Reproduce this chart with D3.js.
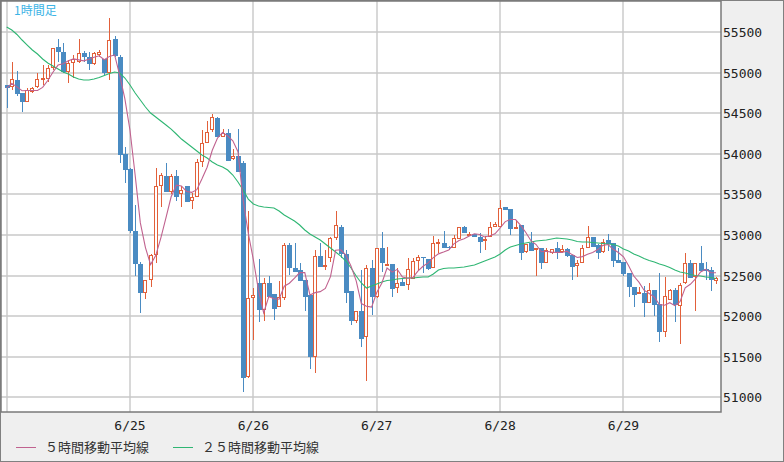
<!DOCTYPE html>
<meta charset="utf-8">
<style>
body { margin: 0; background: #fff; }
svg { display: block; }
.ytick, .xtick { font: 13px "DejaVu Sans Mono", monospace; fill: #222; }
.legend text { font: 13px "Noto Sans CJK JP", sans-serif; fill: #333; }
.title { font: 12px "Noto Sans CJK JP", sans-serif; fill: #3cb4e6; }
.grid line { stroke: #c8c8c8; stroke-width: 1.4px; }
.ma { fill: none; stroke-width: 1.1px; }
</style>
<svg width="784" height="462"></svg>
<script src="https://cdn.jsdelivr.net/npm/d3@7"></script>
<script>

// hourly candles, 6/24 00:00 onwards
var opens = [
  54850,54825,54910,54750,54640,54765,54825,54910,54925,55060,
  55320,55255,55010,55120,55135,55245,55195,55110,55220,55170,
  55000,55415,55195,54000,53815,53050,52645,52285,52445,52755,
  53605,53730,53530,53730,53505,53605,53420,53470,53900,54135,
  54295,54445,54210,54260,53940,53975,53890,51250,52225,52410,
  52075,52410,52275,52115,52225,52875,52595,52570,52445,52260,
  51495,52740,52620,52715,52965,53100,52765,52310,51940,52065,
  51745,52595,52235,52840,52630,52645,52345,52420,52385,52460,
  52680,52730,52705,52595,52890,52900,52855,52840,52950,53100,
  53000,53015,52975,52925,52975,53100,53100,53345,53320,53075,
  53125,52790,52900,52815,52840,52655,52780,52840,52790,52830,
  52755,52620,52655,52840,52975,52875,52790,52940,52900,52690,
  52670,52530,52360,52275,52285,52160,52320,52150,51805,52200,
  52320,52125,52410,52655,52485,52655,52580,52570,52435];
var highs = [
  54850,55135,55025,54750,54815,54825,55000,55095,55095,55305,
  55415,55370,55160,55220,55415,55270,55255,55255,55280,55170,
  55675,55455,55220,54085,53825,53370,52670,52445,52765,53825,
  53765,53890,53755,53800,53605,53605,53520,53940,54295,54405,
  54490,54455,54305,54305,54060,54305,53915,53295,52345,52705,
  52470,52495,52275,52435,52900,52900,52900,52655,52445,52260,
  52815,52900,52815,52975,53295,53125,52815,52310,52065,52570,
  52630,52690,52840,53040,52855,52645,52595,52460,52715,52715,
  52755,52730,52705,52990,52950,53050,52865,53000,53100,53110,
  53040,53015,53025,52990,53160,53160,53430,53345,53320,53185,
  53125,52890,53040,52840,52840,52840,52830,52915,52875,52840,
  52755,52690,52875,53110,52975,52890,52950,53015,52900,52840,
  52670,52530,52360,52360,52370,52410,52320,52530,52485,52335,
  52345,52410,52780,52690,52655,52865,52670,52605,52485];
var lows = [
  54565,54790,54715,54515,54640,54750,54815,54850,54885,55035,
  55135,55000,54875,54935,55120,55135,55035,55095,55195,54975,
  54910,55195,53890,53640,53025,52495,52040,52210,52360,52655,
  53345,53530,53505,53420,53345,53405,53320,53470,53840,54135,
  54270,54210,54210,53915,53925,53775,51065,51235,51705,51930,
  51940,52235,51950,52115,52200,52505,52545,52435,52065,51350,
  51300,52605,52570,52670,52940,52715,52160,51890,51915,51620,
  51200,52015,52225,52545,52620,52235,52285,52370,52320,52460,
  52570,52530,52570,52595,52780,52840,52815,52840,52950,53025,
  52990,52975,52780,52815,52975,53100,53100,53310,53000,53075,
  52690,52780,52805,52495,52580,52655,52765,52705,52780,52730,
  52445,52485,52655,52840,52855,52705,52780,52805,52605,52655,
  52495,52235,52115,52275,51990,52160,52000,51680,51745,52200,
  51930,51655,52395,52470,52065,52555,52445,52310,52395];
var closes = [
  54815,54925,54740,54640,54790,54815,54925,54935,55060,55305,
  55255,55010,55120,55170,55245,55195,55110,55245,55255,55000,
  55405,55205,53985,53800,53050,52645,52285,52445,52755,53605,
  53740,53530,53730,53470,53555,53405,53470,53900,54135,54270,
  54455,54210,54260,53915,53975,53775,51235,52225,52260,52075,
  52410,52235,52090,52235,52875,52595,52545,52435,52235,51495,
  52740,52605,52630,52965,53125,52765,52285,51940,52065,51720,
  52595,52235,52840,52655,52645,52335,52410,52370,52580,52680,
  52730,52715,52580,52900,52915,52840,52840,52965,53100,53025,
  53015,52975,52915,52950,53100,53135,53335,53310,53075,53100,
  52780,52890,52805,52840,52655,52815,52830,52790,52830,52740,
  52605,52655,52840,52975,52855,52780,52915,52890,52680,52655,
  52520,52360,52260,52300,52160,52320,52135,51805,52250,52320,
  52135,52385,52655,52470,52655,52555,52555,52445,52470];

// 25-hour moving average as drawn (its history starts before the visible range)
var ma25 = [
  55565,55528,55473,55405,55343,55282,55232,55171,55121,55084,
  55047,55010,54986,54949,54924,54912,54912,54924,54942,54967,
  54992,55010,54998,54936,54850,54751,54665,54579,54505,54455,
  54406,54357,54307,54246,54184,54135,54086,54036,53987,53950,
  53901,53864,53839,53802,53740,53654,53555,53444,53383,53358,
  53346,53340,53333,53296,53247,53210,53173,53124,53062,53013,
  52976,52939,52889,52840,52791,52741,52680,52594,52495,52409,
  52347,52372,52396,52421,52440,52446,52458,52464,52470,52470,
  52476,52483,52483,52520,52569,52587,52594,52594,52600,52606,
  52618,52631,52655,52680,52705,52729,52766,52816,52853,52871,
  52889,52902,52914,52926,52933,52939,52951,52963,52957,52951,
  52939,52920,52914,52914,52908,52902,52896,52889,52883,52865,
  52828,52803,52766,52741,52711,52686,52668,52643,52624,52600,
  52569,52544,52532,52513,52501,52495,52483,52476,52464];

var dayLabels = ["6/24","6/25","6/26","6/27","6/28","6/29"];
var hoursPerDay = 24;
var yTicks = [51000,51500,52000,52500,53000,53500,54000,54500,55000,55500];

var upColor = "#e2603a", downColor = "#4a8bc2";
var legendItems = [
  {label: "５時間移動平均線", color: "#c0628f"},
  {label: "２５時間移動平均線", color: "#2fb673"}
];

var ma5 = closes.map(function(c, i) {
  return d3.mean(closes.slice(Math.max(0, i - 4), i + 1));
});

var svg = d3.select("svg"),
    W = +svg.attr("width"), H = +svg.attr("height"),
    plot = {left: 1, top: 1, right: 721, bottom: 412};

var x = d3.scaleLinear()
    .domain([-1.1, closes.length - 0.03])
    .range([plot.left, plot.right]);
var y = d3.scaleLinear()
    .domain([50818, 55886])
    .range([plot.bottom, plot.top]);

// background + outer frame
svg.append("rect")
    .attr("x", 0.5).attr("y", 0.5)
    .attr("width", W - 1).attr("height", H - 1)
    .attr("fill", "#efefef").attr("stroke", "#808080");

svg.append("rect")
    .attr("x", plot.left).attr("y", plot.top)
    .attr("width", plot.right - plot.left).attr("height", plot.bottom - plot.top)
    .attr("fill", "#fff");

svg.append("clipPath").attr("id", "clip")
  .append("rect")
    .attr("x", plot.left).attr("y", plot.top)
    .attr("width", plot.right - plot.left).attr("height", plot.bottom - plot.top);

var dayIdx = dayLabels.map(function(d, i) { return i * hoursPerDay; });

var grid = svg.append("g").attr("class", "grid");
grid.selectAll(".h").data(yTicks).enter().append("line")
    .attr("x1", plot.left).attr("x2", plot.right)
    .attr("y1", function(d) { return Math.round(y(d)); })
    .attr("y2", function(d) { return Math.round(y(d)); });
grid.selectAll(".v").data(dayIdx).enter().append("line")
    .attr("y1", plot.top).attr("y2", plot.bottom)
    .attr("x1", function(d) { return Math.round(x(d)); })
    .attr("x2", function(d) { return Math.round(x(d)); });

// candles
var g = svg.append("g").attr("clip-path", "url(#clip)");
var idx = d3.range(closes.length);
var up = function(i) { return closes[i] >= opens[i]; };
var px = function(i) { return Math.round(x(i)); };
var bodyTop = function(i) { return Math.round(y(Math.max(opens[i], closes[i]))); };
var bodyBot = function(i) { return Math.round(y(Math.min(opens[i], closes[i]))); };

var c = g.selectAll(".candle").data(idx).enter().append("g")
    .attr("class", "candle");

c.append("line")
    .attr("x1", function(i) { return px(i) + 0.5; })
    .attr("x2", function(i) { return px(i) + 0.5; })
    .attr("y1", function(i) { return Math.round(y(highs[i])); })
    .attr("y2", function(i) { return Math.round(y(lows[i])); })
    .attr("stroke", function(i) { return up(i) ? upColor : downColor; })
    .attr("stroke-width", 1);

// bullish: hollow outline, bearish: filled
c.filter(up).append("rect")
    .attr("x", function(i) { return px(i) - 1.5; })
    .attr("width", 3)
    .attr("y", function(i) { return bodyTop(i) + 0.5; })
    .attr("height", function(i) { return Math.max(bodyBot(i) - bodyTop(i) - 1, 1); })
    .attr("fill", "#fff")
    .attr("stroke", upColor)
    .attr("stroke-width", 1);

c.filter(function(i) { return !up(i); }).append("rect")
    .attr("x", function(i) { return px(i) - 2; })
    .attr("width", 5)
    .attr("y", bodyTop)
    .attr("height", function(i) { return Math.max(bodyBot(i) - bodyTop(i), 1); })
    .attr("fill", downColor);

// moving averages
var line = function(arr) {
  return d3.line()
    .x(function(d, i) { return x(i); })
    .y(function(d) { return y(d); })(arr);
};
g.append("path").attr("class", "ma").attr("d", line(ma25)).attr("stroke", legendItems[1].color);
g.append("path").attr("class", "ma").attr("d", line(ma5)).attr("stroke", legendItems[0].color);

// plot frame
svg.append("rect")
    .attr("x", plot.left).attr("y", plot.top)
    .attr("width", plot.right - plot.left).attr("height", plot.bottom - plot.top)
    .attr("fill", "none").attr("stroke", "#7a7a7a").attr("stroke-width", 1.5);

// y axis labels (right)
svg.selectAll(".ytick").data(yTicks).enter().append("text")
    .attr("class", "ytick")
    .attr("x", plot.right + 2)
    .attr("y", function(d) { return y(d) + 5; })
    .text(function(d) { return d; });

// x axis labels
svg.selectAll(".xtick").data(dayLabels).enter()
  .filter(function(d, i) { return x(dayIdx[i]) > 20; })
  .append("text")
    .attr("class", "xtick")
    .attr("text-anchor", "middle")
    .attr("x", function(d) { return x(dayIdx[dayLabels.indexOf(d)]); })
    .attr("y", 430)
    .text(function(d) { return d; });

svg.append("text").attr("class", "title")
    .attr("x", 14).attr("y", 15)
    .text("1時間足");

// legend
var lg = svg.append("g").attr("class", "legend");
var lx = [16, 173];
legendItems.forEach(function(d, i) {
  lg.append("line")
      .attr("x1", lx[i]).attr("x2", lx[i] + 20)
      .attr("y1", 447.5).attr("y2", 447.5)
      .attr("stroke", d.color);
  lg.append("text")
      .attr("x", lx[i] + 29).attr("y", 452)
      .text(d.label);
});

</script>
